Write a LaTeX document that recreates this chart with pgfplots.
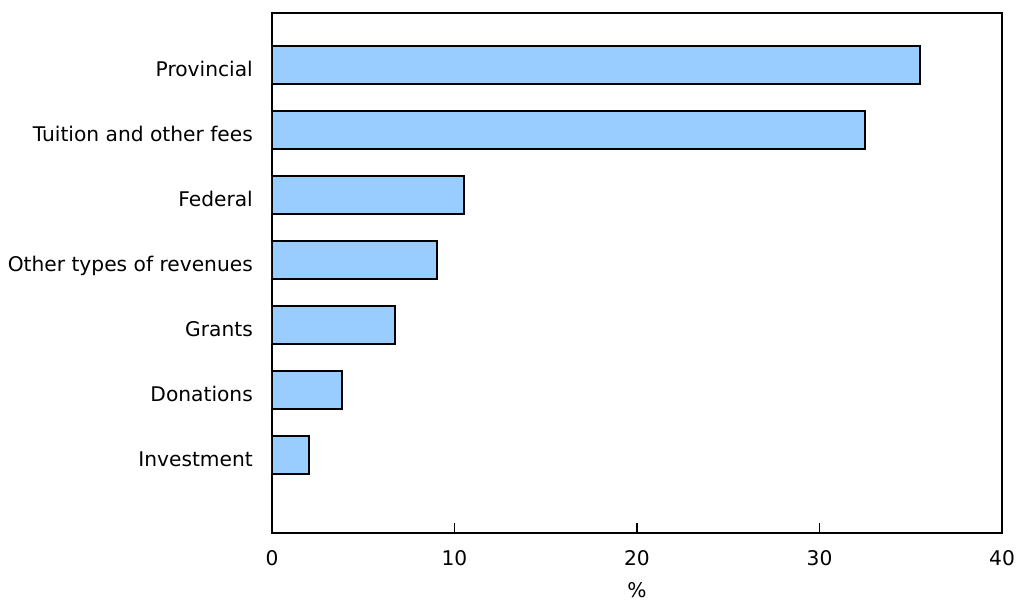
\documentclass[border=0pt]{standalone}
\usepackage{pgfplots}
\pgfplotsset{compat=1.18}
\usepackage{fontspec}
\setmainfont{DejaVu Sans}
\definecolor{barblue}{HTML}{99CCFF}
\begin{document}
\begin{tikzpicture}
\begin{axis}[
  scale only axis, width=730pt, height=520pt,
  xmin=0, xmax=40, ymin=-1.2, ymax=6.8,
  xbar, bar width=38pt,
  xtick={0,10,20,30,40},
  ytick={0,1,2,3,4,5,6},
  yticklabels={Investment,Donations,Grants,Other types of revenues,Federal,Tuition and other fees,Provincial},
  ytick style={draw=none},
  xtick pos=bottom, xtick align=inside,
  major tick length=10pt,
  axis line style={line width=1.7pt, black},
  xtick style={line width=1.7pt, black},
  tick label style={font=\fontsize{20.2}{24}\selectfont},
  label style={font=\fontsize{20.2}{24}\selectfont},
  /pgf/number format/assume math mode=true,
  xticklabel style={anchor=north, inner sep=0pt, yshift=-17pt},
  yticklabel style={anchor=base east, inner sep=0pt, xshift=-9pt, yshift=-12pt},
  xlabel={\%},
  xlabel style={at={(axis description cs:0.5,0)}, anchor=north, inner sep=0pt, yshift=-49pt},
]
\addplot[fill=barblue, draw=black, line width=1.8pt] coordinates {
  (2.03,0) (3.82,1) (6.74,2) (9.02,3) (10.52,4) (32.5,5) (35.5,6)};
\end{axis}
\pgfresetboundingbox
\path ([shift={(-272pt,-70pt)}]current axis.south west) rectangle ([shift={(14pt,13pt)}]current axis.north east);
\end{tikzpicture}
\end{document}
